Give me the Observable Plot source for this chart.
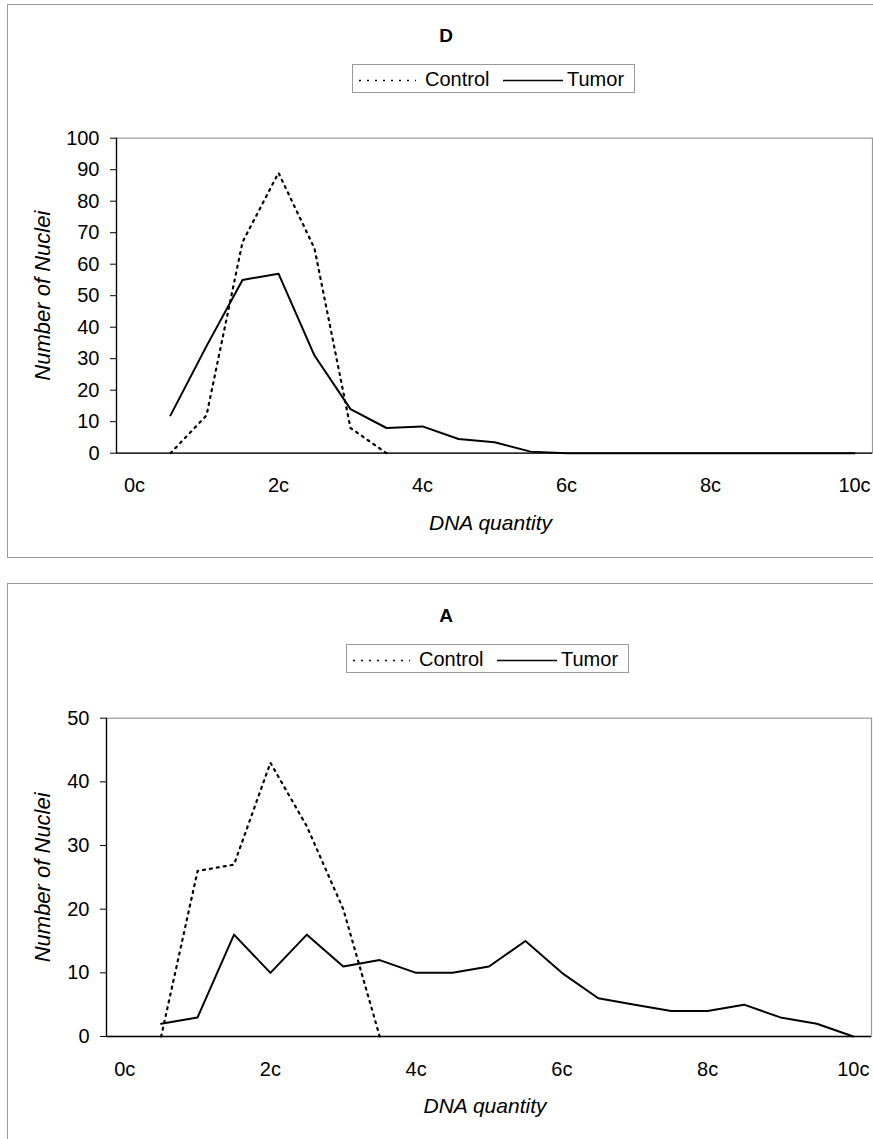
<!DOCTYPE html>
<html>
<head>
<meta charset="utf-8">
<script src="https://cdn.jsdelivr.net/npm/d3@7"></script>
<script src="https://cdn.jsdelivr.net/npm/@observablehq/plot@0.6"></script>
<style>
  html, body { margin: 0; padding: 0; background: #fff; }
  #page { position: relative; width: 873px; height: 1139px; overflow: hidden; background: #fff;
          font-family: "Liberation Sans", Arial, Helvetica, sans-serif; color: #000; }
  .box { position: absolute; border: 1px solid #9a9a9a; box-sizing: border-box; }
  .title { position: absolute; width: 200px; text-align: center; font-weight: bold; font-size: 19px; line-height: 20px; }
  .legend { position: absolute; width: 283px; height: 29px; border: 1px solid #9a9a9a; box-sizing: border-box; background: #fff; }
  .legend .lab { position: absolute; top: 3px; font-size: 20px; line-height: 22px; }
  .legend svg { position: absolute; top: 0; left: 0; }
  .panel { position: absolute; left: 0; }
</style>
</head>
<body>
<div id="page">
  <div class="box" style="left:7px;top:4px;width:890px;height:554px;"></div>
  <div class="box" style="left:7px;top:583px;width:890px;height:600px;"></div>
  <div id="plotD" class="panel" style="top:0px;"></div>
  <div id="plotA" class="panel" style="top:580px;"></div>
  <div class="title" style="left:346px;top:26px;">D</div>
  <div class="title" style="left:346px;top:606px;">A</div>
  <div class="legend" id="legD" style="left:352px;top:64px;"></div>
  <div class="legend" id="legA" style="left:346px;top:644px;"></div>
</div>
<script>
// ---- data ----
const xTicks = [0, 2, 4, 6, 8, 10];
const dnaTumor = [0.5, 1, 1.5, 2, 2.5, 3, 3.5, 4, 4.5, 5, 5.5, 6, 6.5, 7, 7.5, 8, 8.5, 9, 9.5, 10];
const dnaControl = [0.5, 1, 1.5, 2, 2.5, 3, 3.5];

// Panel D
const dTumor = [12, 34, 55, 57, 31, 14, 8, 8.5, 4.5, 3.5, 0.5, 0, 0, 0, 0, 0, 0, 0, 0, 0];
const dControl = [0, 12, 67, 89, 65, 8, 0];
const yTicksD = [0, 10, 20, 30, 40, 50, 60, 70, 80, 90, 100];

// Panel A
const aTumor = [2, 3, 16, 10, 16, 11, 12, 10, 10, 11, 15, 10, 6, 5, 4, 4, 5, 3, 2, 0];
const aControl = [0, 26, 27, 43, 33, 20, 0];
const yTicksA = [0, 10, 20, 30, 40, 50];

const seriesNames = ["Control", "Tumor"];
const xDomain = [-0.25, 10.25];

function toRows(xs, ys) { return xs.map((x, i) => ({x, y: ys[i]})); }

function panel({tumor, control, yTicks, marginLeft, marginRight, height, marginTop, marginBottom, yTitleX}) {
  const yMax = yTicks[yTicks.length - 1];
  return Plot.plot({
    width: 873,
    height,
    marginLeft, marginRight, marginTop, marginBottom,
    style: {fontFamily: '"Liberation Sans", Arial, sans-serif', fontSize: "20px", color: "#000", background: "transparent", overflow: "visible"},
    x: {domain: xDomain, label: null},
    y: {domain: [0, yMax], label: null},
    marks: [
      Plot.frame({stroke: "#9a9a9a", strokeWidth: 1.2}),
      Plot.ruleX([xDomain[0]], {stroke: "#000", strokeWidth: 1.3}),
      Plot.ruleY([0], {stroke: "#000", strokeWidth: 1.3}),
      Plot.axisY({ticks: yTicks, tickSize: 6, tickPadding: 11, fontSize: 20, stroke: "#000", label: null}),
      Plot.axisX({ticks: xTicks, tickFormat: d => d + "c", tickSize: 0, tickPadding: 25, fontSize: 20, label: null}),
      Plot.line(toRows(dnaControl, control), {x: "x", y: "y", stroke: "#000", strokeWidth: 2.2, strokeDasharray: "2,5", strokeLinecap: "round"}),
      Plot.line(toRows(dnaTumor, tumor), {x: "x", y: "y", stroke: "#000", strokeWidth: 2}),
      Plot.text(["Number of Nuclei"], {frameAnchor: "left", dx: yTitleX - marginLeft, rotate: -90, textAnchor: "middle", lineAnchor: "middle", fontStyle: "italic", fontSize: 22, fill: "#000"}),
      Plot.text(["DNA quantity"], {frameAnchor: "bottom", dy: 70, dx: -4, textAnchor: "middle", lineAnchor: "middle", fontStyle: "italic", fontSize: 21, fill: "#000"})
    ]
  });
}

document.getElementById("plotD").appendChild(panel({
  tumor: dTumor, control: dControl, yTicks: yTicksD,
  marginLeft: 116, marginRight: 1, height: 560, marginTop: 137.7, marginBottom: 107.3, yTitleX: 42
}));
document.getElementById("plotA").appendChild(panel({
  tumor: aTumor, control: aControl, yTicks: yTicksA,
  marginLeft: 106, marginRight: 2, height: 559, marginTop: 137.7, marginBottom: 103, yTitleX: 42
}));

function legend(id) {
  const el = document.getElementById(id);
  el.innerHTML =
    '<svg width="283" height="29">' +
    '<line x1="6" x2="63" y1="15.5" y2="15.5" stroke="#000" stroke-width="1.6" stroke-dasharray="2,6"/>' +
    '<line x1="150" x2="210" y1="15.5" y2="15.5" stroke="#000" stroke-width="1.6"/>' +
    '</svg>' +
    '<span class="lab" style="left:72px;">' + seriesNames[0] + '</span>' +
    '<span class="lab" style="left:214px;">' + seriesNames[1] + '</span>';
}
legend("legD");
legend("legA");
</script>
</body>
</html>
